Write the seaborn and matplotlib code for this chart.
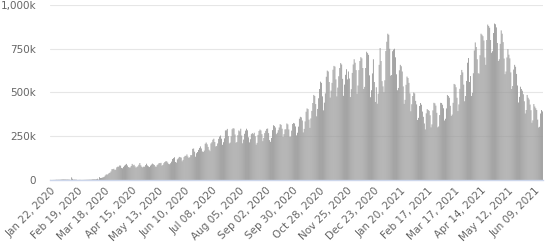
import matplotlib
matplotlib.use("Agg")
import matplotlib.pyplot as plt
import seaborn as sns
import pandas as pd
from matplotlib.ticker import FuncFormatter

# Daily new cases (thousands), starting Wed Jan 22, 2020, one row of 7 per week
cases_2020_q1 = [
    0.5, 0.1, 0.3, 0.5, 0.7, 0.8, 1.8,
    1.5, 2.0, 1.7, 2.1, 2.6, 3.2, 3.9,
    3.7, 3.2, 3.4, 2.7, 3.0, 2.5, 2.0,
    0.4, 15.1, 6.5, 2.1, 2.6, 2.1, 1.9,
    0.5, 0.6, 1.0, 1.0, 0.6, 0.6, 0.9,
    1.0, 1.2, 1.4, 1.8, 1.7, 1.9, 2.5,
    2.2, 2.8, 4.0, 3.9, 4.0, 3.7, 4.6,
    7.3, 2.4, 16.5, 11.4, 12.0, 14.0, 16.0,
    19, 26, 32, 30, 34, 40, 42,
    49, 62, 62, 64, 57, 59, 72,
]
cases_2020_q2 = [
    76, 76, 83, 82, 69, 67, 75,
    82, 87, 92, 83, 74, 71, 72,
    80, 92, 84, 87, 78, 70, 75,
    78, 87, 97, 84, 76, 72, 76,
    76, 85, 93, 83, 78, 74, 82,
    88, 94, 90, 86, 77, 76, 85,
    90, 97, 96, 98, 82, 86, 96,
    103, 107, 107, 100, 92, 90, 96,
    105, 120, 125, 130, 103, 99, 118,
    124, 132, 130, 128, 107, 115, 131,
    138, 138, 146, 134, 126, 130, 142,
    142, 178, 180, 162, 133, 153, 160,
    172, 183, 192, 180, 163, 160, 168,
]
cases_2020_q3 = [
    207, 214, 204, 189, 173, 165, 209,
    216, 230, 236, 217, 192, 194, 209,
    235, 248, 254, 236, 201, 216, 238,
    283, 284, 292, 251, 209, 214, 250,
    290, 296, 294, 260, 213, 217, 256,
    283, 278, 293, 254, 210, 231, 264,
    282, 293, 284, 244, 215, 233, 262,
    268, 262, 270, 250, 202, 212, 258,
    280, 288, 283, 262, 222, 240, 268,
    281, 292, 294, 268, 228, 218, 240,
    285, 313, 309, 300, 262, 270, 285,
    300, 319, 315, 293, 246, 262, 289,
    290, 323, 318, 289, 248, 248, 282,
]
cases_2020_q4 = [
    320, 326, 323, 306, 255, 270, 305,
    350, 361, 358, 340, 272, 292, 335,
    390, 409, 405, 345, 298, 352, 395,
    440, 486, 480, 434, 364, 406, 467,
    520, 562, 555, 478, 398, 442, 495,
    590, 625, 620, 560, 471, 511, 555,
    630, 652, 648, 575, 478, 528, 593,
    640, 668, 660, 578, 481, 545, 601,
    633, 575, 620, 580, 474, 519, 612,
    660, 690, 670, 628, 493, 540, 628,
    680, 702, 695, 640, 520, 532, 640,
    733, 725, 715, 598, 473, 513, 609,
    690, 560, 446, 530, 436, 493, 658,
]
cases_2021_q1 = [
    754, 680, 565, 535, 502, 570, 737,
    790, 836, 830, 750, 596, 600, 736,
    745, 750, 701, 604, 513, 526, 627,
    658, 650, 620, 535, 435, 458, 544,
    591, 583, 555, 495, 393, 433, 480,
    500, 495, 452, 432, 343, 355, 423,
    440, 430, 391, 361, 323, 289, 381,
    405, 400, 395, 370, 301, 318, 398,
    441, 438, 425, 384, 301, 306, 371,
    441, 440, 430, 410, 340, 350, 409,
    486, 480, 470, 424, 366, 374, 441,
    549, 545, 530, 470, 394, 432, 521,
    600, 629, 615, 545, 450, 480, 566,
]
cases_2021_q2 = [
    670, 697, 560, 594, 480, 498, 610,
    740, 786, 760, 690, 610, 608, 713,
    836, 830, 822, 797, 700, 658, 800,
    888, 880, 870, 800, 727, 736, 840,
    894, 890, 872, 783, 680, 690, 778,
    855, 836, 788, 694, 605, 620, 700,
    748, 716, 695, 615, 520, 537, 631,
    658, 647, 606, 540, 443, 475, 533,
    520, 510, 490, 450, 380, 400, 486,
    470, 460, 431, 399, 327, 341, 434,
    420, 410, 400, 345, 300, 304, 380,
    400, 392,
]

start_date = "2020-01-22"
tick_step_days = 28
y_ticks = [0, 250000, 500000, 750000, 1000000]

values_k = (cases_2020_q1 + cases_2020_q2 + cases_2020_q3 +
            cases_2020_q4 + cases_2021_q1 + cases_2021_q2)
dates = pd.date_range(start_date, periods=len(values_k), freq="D")
df = pd.DataFrame({"idx": range(len(values_k)),
                   "cases": [v * 1000 for v in values_k]})

sns.set_style("white")
plt.rcParams["font.family"] = ["DejaVu Sans"]

fig = plt.figure(figsize=(5.5, 2.42), dpi=100)
ax = fig.add_axes([50 / 550, 1 - 180 / 242, 493 / 550, 175 / 242])

sns.barplot(data=df, x="idx", y="cases", color="#9a9a9a", saturation=1,
            width=0.92, ax=ax, linewidth=0, zorder=2, snap=False)

ax.set_ylim(0, 1000000)
ax.set_xlim(-0.5, len(values_k) - 0.5)
ax.set_yticks(y_ticks)
ax.yaxis.set_major_formatter(FuncFormatter(
    lambda v, p: "0" if v == 0 else f"{int(v/1000):,}k"))
ax.yaxis.grid(True, color="#e6e6e6", linewidth=0.8, zorder=0)
ax.xaxis.grid(False)
ax.set_axisbelow(True)

tick_pos = list(range(0, len(values_k), tick_step_days))
ax.set_xticks(tick_pos)
ax.set_xticklabels([dates[i].strftime("%b %d, %Y") for i in tick_pos],
                   rotation=45, ha="right", rotation_mode="anchor")

for s in ["top", "right", "left"]:
    ax.spines[s].set_visible(False)
ax.spines["bottom"].set_color("#ccd6eb")
ax.spines["bottom"].set_linewidth(1)
ax.tick_params(axis="x", length=0, pad=4, labelsize=7.5, labelcolor="#666666")
ax.tick_params(axis="y", length=0, pad=10, labelsize=7.5, labelcolor="#666666")
ax.set_xlabel("")
ax.set_ylabel("")

fig.savefig("out.png", dpi=100)
